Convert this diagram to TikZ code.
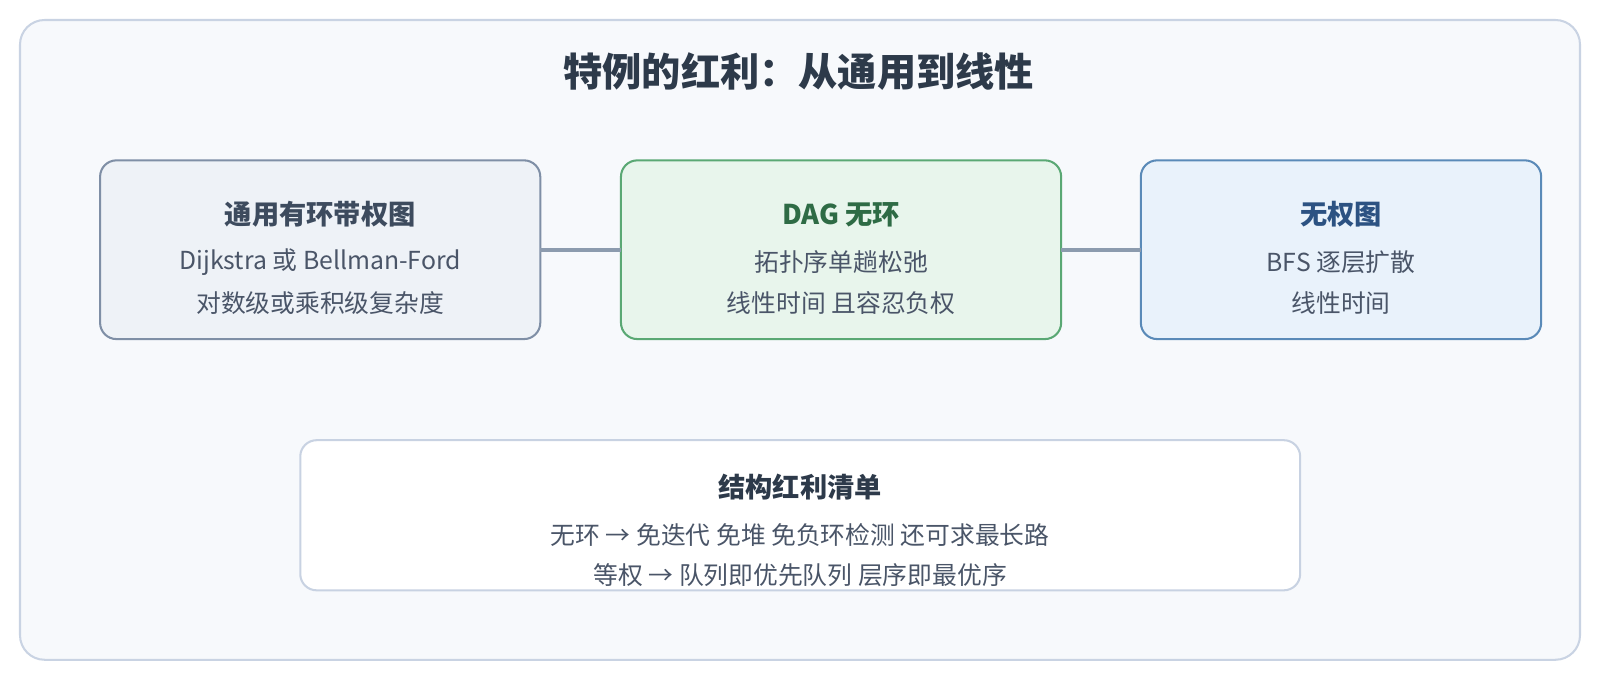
\documentclass[tikz,border=0pt]{standalone}
\usepackage{fontspec}
\setmainfont{Noto Sans CJK SC}
\definecolor{framefill}{HTML}{F7F9FC}
\definecolor{framedraw}{HTML}{C9D3E3}
\definecolor{gfill}{HTML}{EEF2F7}
\definecolor{gdraw}{HTML}{7F8FA6}
\definecolor{gtitle}{HTML}{3D4B5E}
\definecolor{mfill}{HTML}{E8F5EC}
\definecolor{mdraw}{HTML}{5AA874}
\definecolor{mtitle}{HTML}{2E6B45}
\definecolor{bfill}{HTML}{E9F2FB}
\definecolor{bdraw}{HTML}{5A8AB8}
\definecolor{btitle}{HTML}{2C5282}
\definecolor{bodytext}{HTML}{4A5568}
\definecolor{maintitle}{HTML}{2D3A4A}
\definecolor{linkcol}{HTML}{8C9BAE}
\definecolor{listdraw}{HTML}{C8D2E2}
\tikzset{
  panel/.style={rectangle, rounded corners=12pt, line width=1.5pt, outer sep=0pt, inner sep=0pt},
  boxtitle/.style={inner sep=0pt, font=\fontsize{20pt}{24pt}\selectfont\bfseries},
  bodyline/.style={inner sep=0pt, text=bodytext, font=\fontsize{18.2pt}{22pt}\selectfont},
  link/.style={line width=3pt, draw=linkcol}
}
\begin{document}
\begin{tikzpicture}[x=0.75pt,y=-0.75pt]
\useasboundingbox (0,0) rectangle (1566.6,665.8);
\fill[white] (0,0) rectangle (1566.6,665.8);
\draw[fill=framefill, draw=framedraw, line width=1.5pt, rounded corners=18pt] (19.6,19.6) rectangle (1547,646);
\node[inner sep=0pt, text=maintitle, font=\fontsize{28.8pt}{34pt}\selectfont\bfseries] (title) at (782,70) {特例的红利：从通用到线性};

\node[panel, fill=gfill, draw=gdraw, minimum width=323.25pt, minimum height=131.25pt] (gen) at (313.5,244.5) {};
\node[panel, fill=mfill, draw=mdraw, minimum width=323.25pt, minimum height=131.25pt] (dag) at (823.5,244.5) {};
\node[panel, fill=bfill, draw=bdraw, minimum width=294pt, minimum height=131.25pt] (unw) at (1313,244.5) {};

\draw[link] (gen.east) -- (dag.west);
\draw[link] (dag.east) -- (unw.west);

\node[boxtitle, text=gtitle] (gent) at (313.5,210) {通用有环带权图};
\node[bodyline] (gen1) at (313.5,257) {Dijkstra 或 Bellman-Ford};
\node[bodyline] (gen2) at (313.5,297) {对数级或乘积级复杂度};

\node[boxtitle, text=mtitle] (dagt) at (823.5,210) {DAG 无环};
\node[bodyline] (dag1) at (823.5,257) {拓扑序单趟松弛};
\node[bodyline] (dag2) at (823.5,297) {线性时间 且容忍负权};

\node[boxtitle, text=btitle] (unwt) at (1313,210) {无权图};
\node[bodyline] (unw1) at (1313,257) {BFS 逐层扩散};
\node[bodyline] (unw2) at (1313,297) {线性时间};

\node[panel, fill=white, draw=listdraw, minimum width=734.25pt, minimum height=110.25pt] (list) at (783.5,504.5) {};
\node[boxtitle, text=maintitle] (listt) at (783.5,477) {结构红利清单};
\node[bodyline] (list1) at (783.5,524) {无环 → 免迭代 免堆 免负环检测 还可求最长路};
\node[bodyline] (list2) at (783.5,563) {等权 → 队列即优先队列 层序即最优序};
\end{tikzpicture}
\end{document}
